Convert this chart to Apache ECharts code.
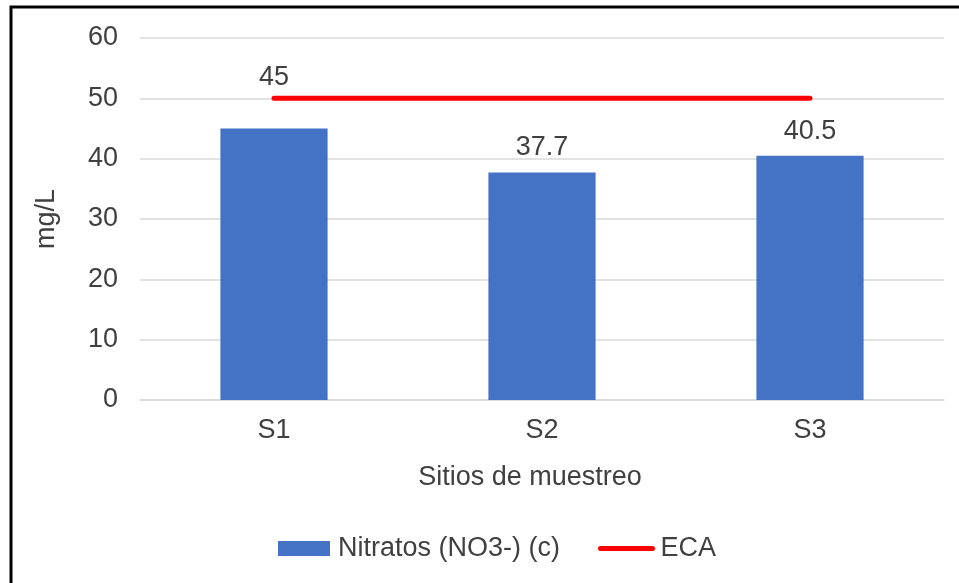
<!DOCTYPE html>
<html>
<head>
<meta charset="utf-8">
<script src="https://cdn.jsdelivr.net/npm/echarts@6/dist/echarts.min.js"></script>
<style>
  html, body { margin: 0; padding: 0; background: #fff; }
  #chart { width: 959px; height: 583px; }
</style>
</head>
<body>
<div id="chart"></div>
<script>
// Sampling sites and nitrate concentrations (mg/L)
const categories = ['S1', 'S2', 'S3'];
const nitratos = [45, 37.7, 40.5];
// Water quality standard (ECA) limit per site
const eca = [50, 50, 50];
const yTicks = { min: 0, max: 60, interval: 10 };

const FONT = 'Liberation Sans, Arial, sans-serif';
const TEXT = '#404040';
const FS = 27;

const chart = echarts.init(document.getElementById('chart'));

chart.setOption({
  animation: false,
  backgroundColor: '#ffffff',
  textStyle: { fontFamily: FONT },
  graphic: [{
    type: 'polyline',
    shape: { points: [[11, 583], [11, 7], [959, 7]] },
    style: { stroke: '#000', lineWidth: 3, fill: null }
  }],
  grid: { left: 140, right: 15, top: 38, bottom: 183 },
  legend: {
    left: 273, top: 530,
    itemWidth: 52, itemHeight: 15, itemGap: 38,
    textStyle: { fontFamily: FONT, fontSize: FS, color: TEXT, padding: [0, 0, 0, 3] },
    data: [
      { name: 'Nitratos (NO3-) (c)', icon: 'rect' },
      { name: 'ECA', itemStyle: { opacity: 0 }, lineStyle: { width: 5, cap: 'round', color: '#FF0000' } }
    ]
  },
  xAxis: {
    type: 'category',
    data: categories,
    name: 'Sitios de muestreo',
    nameLocation: 'middle',
    nameGap: 64,
    nameTextStyle: { fontFamily: FONT, fontSize: FS, color: TEXT, padding: [0, 24, 0, 0] },
    axisLine: { lineStyle: { color: '#D9D9D9', width: 1.5 } },
    axisTick: { show: false },
    axisLabel: { fontFamily: FONT, fontSize: FS, color: TEXT, margin: 17 }
  },
  yAxis: {
    type: 'value',
    min: yTicks.min, max: yTicks.max, interval: yTicks.interval,
    name: 'mg/L',
    nameLocation: 'middle',
    nameGap: 80,
    nameTextStyle: { fontFamily: FONT, fontSize: FS, color: TEXT },
    axisLine: { show: false },
    axisTick: { show: false },
    axisLabel: { fontFamily: FONT, fontSize: FS, color: TEXT, margin: 22 },
    splitLine: { lineStyle: { color: '#D9D9D9', width: 1.5 } }
  },
  series: [
    {
      name: 'Nitratos (NO3-) (c)',
      type: 'bar',
      barCategoryGap: '60%',
      itemStyle: { color: '#4472C4' },
      label: {
        show: true, position: 'top', distance: 11,
        fontFamily: FONT, fontSize: FS, color: TEXT
      },
      data: nitratos.map((v, i) => i === 0
        ? { value: v, label: { offset: [0, -26] } }
        : v),
      z: 2
    },
    {
      name: 'ECA',
      type: 'line',
      data: eca,
      symbol: 'none',
      lineStyle: { color: '#FF0000', width: 5, cap: 'round' },
      itemStyle: { color: '#FF0000' },
      z: 3
    }
  ]
});
</script>
</body>
</html>
